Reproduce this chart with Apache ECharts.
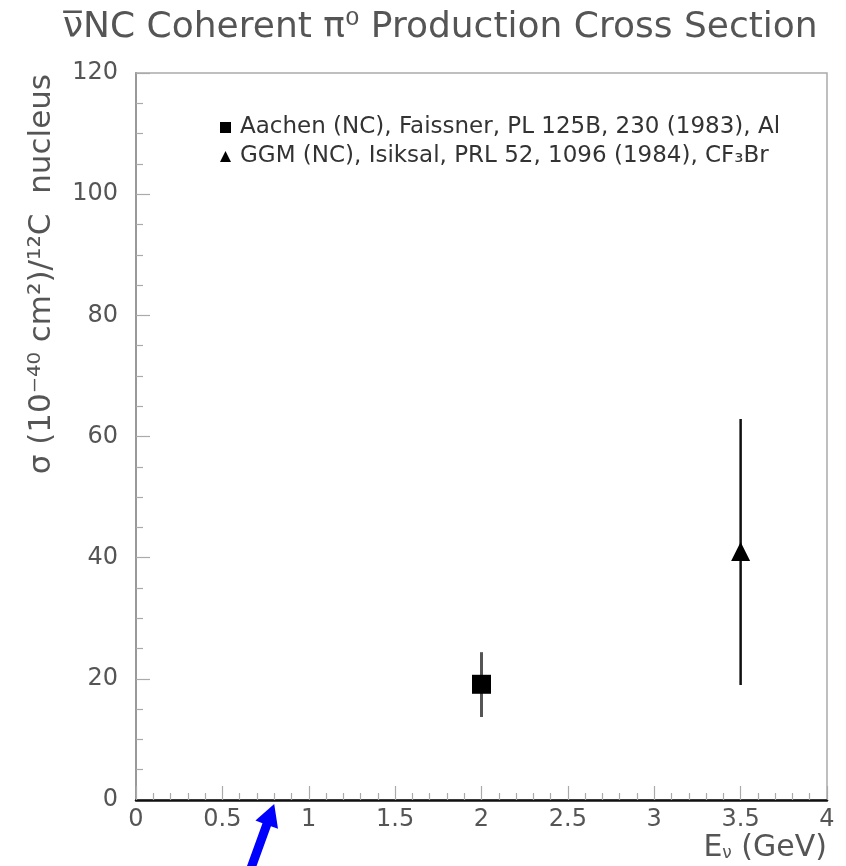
<!DOCTYPE html>
<html>
<head>
<meta charset="utf-8">
<script src="https://cdn.jsdelivr.net/npm/echarts@6/dist/echarts.min.js"></script>
<style>
html,body{margin:0;padding:0;background:#fff;}
#main{width:846px;height:866px;}
</style>
</head>
<body>
<div id="main"></div>
<script>
// ---- data ----
var xTickLabels = ['0','0.5','1','1.5','2','2.5','3','3.5','4'];
var yTickLabels = ['0','20','40','60','80','100','120'];
var aachenE = [2.0];
var aachenSigma = [19.1];
var aachenLow = [13.7];
var aachenHigh = [24.4];
var ggmE = [3.5];
var ggmSigma = [41.0];
var ggmLow = [19.0];
var ggmHigh = [62.9];
var arrowE = [0.8];
var seriesNames = ['Aachen (NC), Faissner, PL 125B, 230 (1983), Al',
                   'GGM (NC), Isiksal, PRL 52, 1096 (1984), CF\u2083Br'];

var FONT = 'DejaVu Sans';
var chart = echarts.init(document.getElementById('main'), null, {renderer:'canvas'});

function pts(xs, ys){ return xs.map(function(x,i){return [x, ys[i]];}); }
function bars(xs, lo, hi){ return xs.map(function(x,i){return [x, lo[i], hi[i]];}); }

function errRender(color, width){
  return function(params, api){
    var a = api.coord([api.value(0), api.value(1)]);
    var b = api.coord([api.value(0), api.value(2)]);
    return {type:'line', shape:{x1:a[0],y1:a[1],x2:b[0],y2:b[1]},
            style:{stroke:color, lineWidth:width}};
  };
}

var option = {
  animation:false,
  title:{
    text:'\u03BD\u0305NC Coherent \u03C0\u2070 Production Cross Section',
    left:58, top:5,
    textStyle:{fontFamily:FONT, fontSize:36, fontWeight:'normal', color:'#555'}
  },
  legend:{
    orient:'vertical', left:215, top:111, itemGap:6,
    itemWidth:11, itemHeight:11,
    data:[{name:seriesNames[0], icon:'rect'},{name:seriesNames[1], icon:'triangle'}],
    textStyle:{fontFamily:FONT, fontSize:23, color:'#333', padding:[0,0,0,4]}
  },
  grid:{left:136, right:19, top:73, bottom:66, outerBoundsMode:'none', containLabel:false,
        show:true, borderColor:'#aaa', borderWidth:1.5},
  xAxis:{
    type:'value', min:0, max:4, interval:0.5, z:5,
    axisLine:{show:true, onZero:false, lineStyle:{color:'#111', width:2.5}},
    axisTick:{show:true, inside:true, length:14, lineStyle:{color:'#aaa', width:1.2}},
    minorTick:{show:true, splitNumber:5, length:7, lineStyle:{color:'#aaa', width:1.2}},
    splitLine:{show:false},
    axisLabel:{margin:8, fontFamily:FONT, fontSize:24, color:'#555',
      formatter:function(v){ var i=Math.round(v/0.5); return xTickLabels[i]!==undefined?xTickLabels[i]:''; }}
  },
  yAxis:{
    type:'value', min:0, max:120, interval:20, z:4,
    axisLine:{show:true, onZero:false, lineStyle:{color:'#999', width:2}},
    axisTick:{show:true, inside:true, length:14, lineStyle:{color:'#aaa', width:1.2}},
    minorTick:{show:true, splitNumber:4, length:7, lineStyle:{color:'#aaa', width:1.2}},
    splitLine:{show:false},
    axisLabel:{margin:18, fontFamily:FONT, fontSize:24, color:'#555',
      formatter:function(v){ var i=Math.round(v/20); return yTickLabels[i]!==undefined?yTickLabels[i]:''; }}
  },
  graphic:[{
    id:'yname', type:'text', rotation:Math.PI/2, x:42, y:74, z:10,
    style:{text:'\u03C3 (10\u207B\u2074\u2070 cm\u00B2)/\u00B9\u00B2C  nucleus', fontFamily:FONT, fontSize:31,
      fill:'#555', align:'right', verticalAlign:'middle'}
  }],
  series:[
    {type:'custom', name:'aachenErr', renderItem:errRender('#555',3), data:bars(aachenE,aachenLow,aachenHigh), z:2, silent:true},
    {type:'custom', name:'ggmErr', renderItem:errRender('#111',2.5), data:bars(ggmE,ggmLow,ggmHigh), z:2, silent:true},
    {type:'scatter', name:seriesNames[0], symbol:'rect', symbolSize:19, data:pts(aachenE,aachenSigma),
      itemStyle:{color:'#000', opacity:1}, z:3},
    {type:'scatter', name:seriesNames[1], symbol:'triangle', symbolSize:19, data:pts(ggmE,ggmSigma),
      itemStyle:{color:'#000', opacity:1}, z:3}
  ]
};
chart.setOption(option);

// x axis title anchored at the axis end
var pe = chart.convertToPixel({xAxisIndex:0, yAxisIndex:0}, [4, 0]);
// annotation arrow pointing at E = 0.8 on the axis
var p = chart.convertToPixel({xAxisIndex:0, yAxisIndex:0}, [arrowE[0], 0]);
var tip = [p[0], p[1] + 4];
var dx = -0.34, dy = 0.94; // direction from tip to tail
var L = 90, H = 22, hw = 12, sw = 4.5;
var nx = -dy, ny = dx;
function P(t, s){ return [tip[0] + dx*t + nx*s, tip[1] + dy*t + ny*s]; }
chart.setOption({graphic:[
  {id:'xname', type:'text', x:pe[0], y:pe[1] + 48, z:10,
   style:{text:'{e|E}{s|\u03BD}{e|\u00A0(GeV)}', align:'right', verticalAlign:'middle',
     rich:{e:{fontFamily:FONT,fontSize:30,fill:'#555'}, s:{fontFamily:FONT,fontSize:17,fill:'#555',padding:[12,0,0,0]}}}},
  {id:'arrow', type:'polygon', z:20,
   shape:{points:[P(0,0), P(H,hw), P(H,sw), P(L,sw), P(L,-sw), P(H,-sw), P(H,-hw)]},
   style:{fill:'#0000ff'}}
]});
</script>
</body>
</html>
